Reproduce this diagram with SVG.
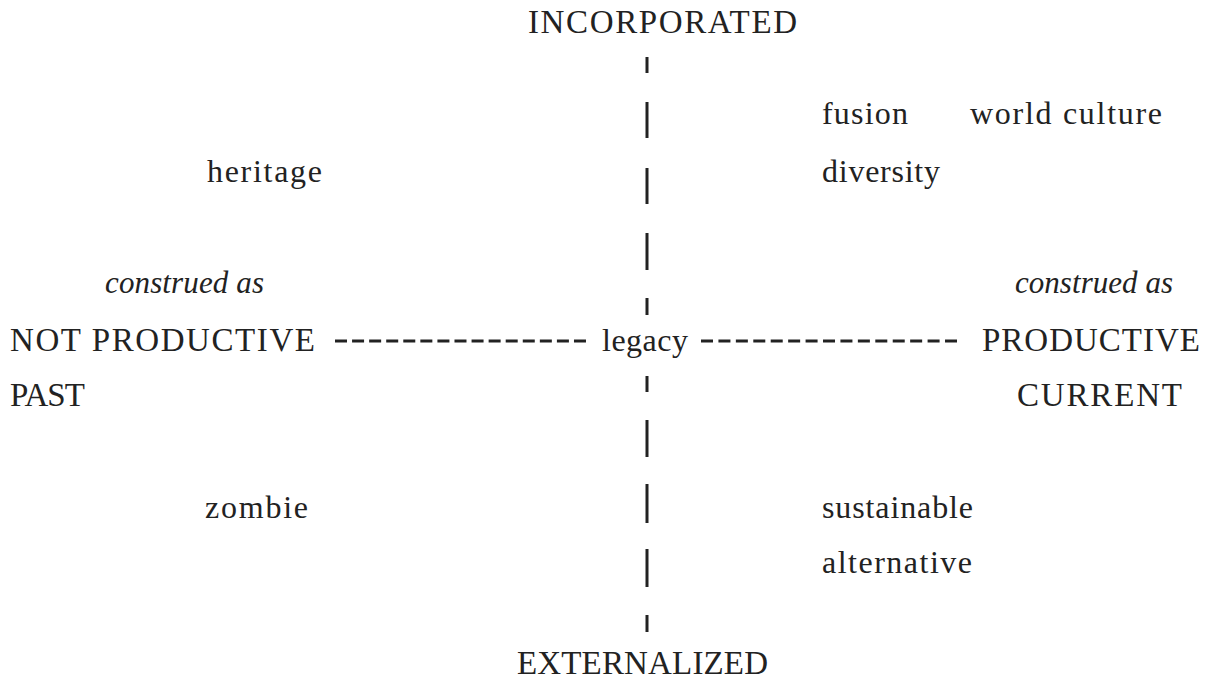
<svg xmlns="http://www.w3.org/2000/svg" width="1211" height="679" viewBox="0 0 1211 679">
<style>
text{font-family:"Liberation Serif","Times New Roman",serif;fill:#222;font-size:32px}
.cap{font-size:33px}
.it{font-style:italic;font-size:31px}
.ax{stroke:#222;stroke-width:3;fill:none}
</style>
<rect width="1211" height="679" fill="#fff"/>
<g id="connectors">
<path class="ax" d="M647 57V73M647 102V138M647 168V204M647 233V270M647 298V315M647 376V392M647 420V457M647 484V523M647 549V587M647 615V632"/>
<line class="ax" x1="335" y1="341" x2="586" y2="341" stroke-dasharray="12 5.07"/>
<line class="ax" x1="701" y1="341" x2="957" y2="341" stroke-dasharray="12 5.43"/>
</g>
<g id="incorporated"><text class="cap" x="528" y="33" textLength="269">INCORPORATED</text></g>
<g id="externalized"><text class="cap" x="517" y="674" textLength="251">EXTERNALIZED</text></g>
<g id="fusion"><text x="822" y="124" textLength="86">fusion</text></g>
<g id="world-culture"><text x="970" y="124" textLength="192">world culture</text></g>
<g id="diversity"><text x="822" y="182" textLength="118">diversity</text></g>
<g id="heritage"><text x="207" y="182" textLength="115">heritage</text></g>
<g id="left-pole">
<text class="it" x="105" y="293" textLength="159">construed as</text>
<text class="cap" x="10" y="351" textLength="305">NOT PRODUCTIVE</text>
<text class="cap" x="10" y="406" textLength="75">PAST</text>
</g>
<g id="legacy"><text x="602" y="351" textLength="86">legacy</text></g>
<g id="right-pole">
<text class="it" x="1015" y="293" textLength="158">construed as</text>
<text class="cap" x="982" y="351" textLength="218">PRODUCTIVE</text>
<text class="cap" x="1017" y="406" textLength="165">CURRENT</text>
</g>
<g id="zombie"><text x="205" y="518" textLength="103">zombie</text></g>
<g id="sustainable"><text x="822" y="518" textLength="151">sustainable</text></g>
<g id="alternative"><text x="822" y="573" textLength="150">alternative</text></g>
</svg>
